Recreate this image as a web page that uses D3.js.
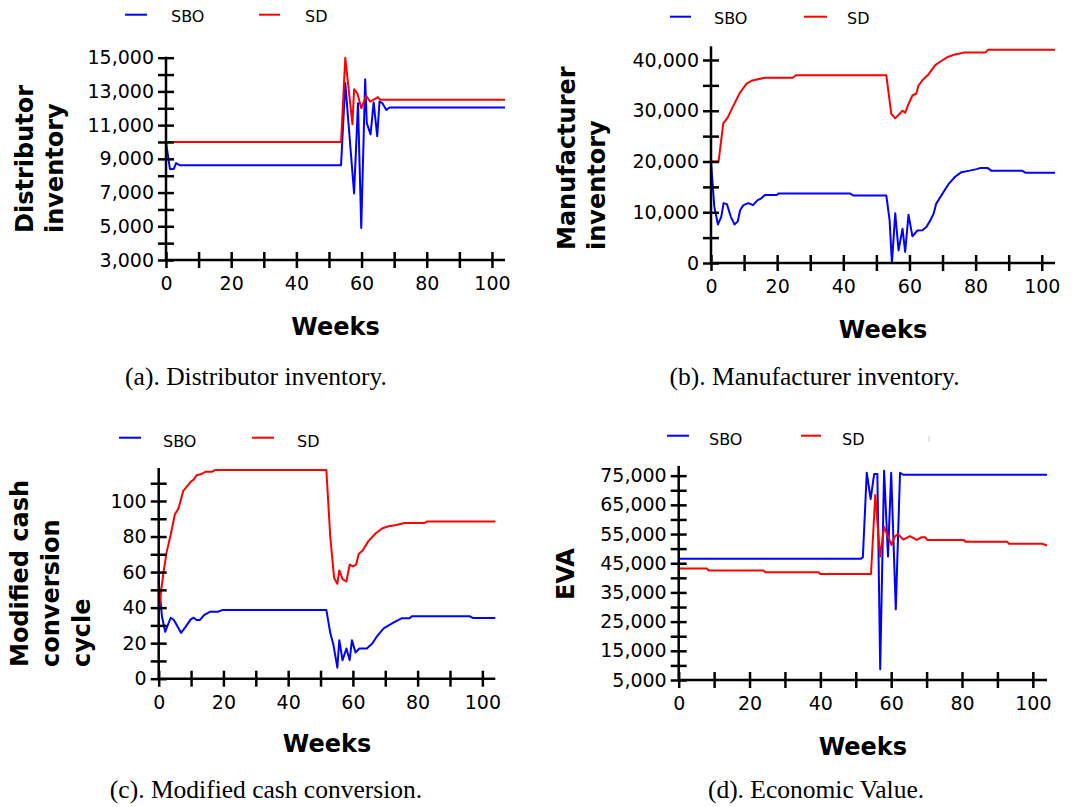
<!DOCTYPE html>
<html><head><meta charset="utf-8">
<script src="https://cdn.jsdelivr.net/npm/d3@7"></script>
<style>body{margin:0;background:#fff} svg{display:block}</style>
</head><body>
<svg id="c" width="1083" height="807"></svg>
<script>
// ---------- data ----------
const weeksDomain = [0, 104];
const xTickValues = [0,10,20,30,40,50,60,70,80,90,100];
const xLabelValues = [0,20,40,60,80,100];
const seriesNames = ["SBO", "SD"];
const seriesColors = ["#0000ff", "#ff0000"];

// (a) Distributor inventory  [week, value]
const distSBO = [[0,10000],[1.2,8400],[2.4,8400],[3.1,8750],[4.3,8620],[53.7,8620],[55.0,13500],[57.7,6950],[58.9,12300],[59.9,4900],[61.1,13720],[61.6,11120],[62.75,10450],[63.7,12350],[64.8,10350],[65.5,12400],[66.4,12300],[67.6,11900],[68.6,12050],[104,12050]];
const distSD = [[0,10000],[53.7,10000],[55.0,15000],[57.2,11050],[57.7,13130],[58.7,12890],[59.9,12000],[61.4,12740],[62.6,12400],[64.0,12540],[65.0,12660],[65.7,12500],[104,12500]];
const distYTicks = [3000,4000,5000,6000,7000,8000,9000,10000,11000,12000,13000,14000,15000];
const distYLabels = [3000,5000,7000,9000,11000,13000,15000];

// (b) Manufacturer inventory
const mfgSBO = [[0,20000],[1,11050],[2.1,7600],[3.1,9100],[3.8,11800],[4.8,11600],[6,9100],[7.1,7600],[8.1,8200],[8.8,10400],[9.8,11400],[11.3,11800],[12.7,11400],[14.1,12400],[15.1,12700],[16.3,13400],[19.9,13400],[20.4,13700],[42,13700],[43,13300],[53,13300],[54,8400],[54.7,0],[55.7,9800],[56.7,2500],[57.9,6750],[58.7,2200],[59.7,9500],[60.9,5250],[62.4,6400],[63.9,6450],[65.1,7100],[66.3,8400],[67.3,9700],[68.1,11700],[70.3,14000],[72,15700],[73.8,17000],[75.7,17900],[78.2,18200],[80.3,18500],[81.3,18700],[83.7,18700],[84.7,18200],[94,18200],[95,17800],[104,17800]];
const mfgSD = [[0,20000],[2.3,20000],[3.7,27500],[5,28600],[6.7,30900],[8.7,33500],[10.7,35300],[12.2,35900],[14.2,36200],[16.2,36500],[24.7,36500],[25.7,37000],[53,37000],[54.5,29400],[55.7,28500],[57.9,30000],[58.7,29600],[59.7,31300],[60.9,33000],[62.1,33400],[62.7,34900],[63.9,36000],[65.8,37200],[67.8,39000],[69.6,39800],[71.6,40600],[73.8,41100],[76.7,41500],[83,41500],[83.7,42000],[104,42000]];
const mfgYTicks = [0,5000,10000,15000,20000,25000,30000,35000,40000];
const mfgYLabels = [0,10000,20000,30000,40000];

// (c) Modified cash conversion cycle
const cccSBO = [[0,55],[1,35],[2,26.4],[3.7,34.3],[4.7,33],[6.9,25.8],[8.3,29.2],[9.9,33.4],[10.8,34.3],[11.7,33],[12.7,33],[14,35.8],[15.9,37.7],[18.3,37.7],[19.8,38.7],[51.8,38.7],[53,25.8],[54,18.9],[55.2,6.2],[55.8,21.7],[56.8,10.4],[58,17],[59,10.4],[59.7,21.7],[60.8,14.7],[62,17],[64.3,17],[66,19.8],[67.5,24],[69.5,28.3],[72.5,31.5],[75,34],[77.5,34],[78.3,35.2],[96,35.2],[97,34.2],[104,34.2]];
const cccSD = [[0,38],[1.3,57.5],[2.4,70.8],[3.7,81],[5,92.5],[6.1,95.7],[7.6,105.7],[9.9,110.8],[10.8,112],[11.7,114.5],[13,115],[14.4,116.4],[16.4,116.4],[17.4,117.4],[51.8,117.4],[53,80],[54.2,56.6],[55.2,53.4],[55.8,60.9],[56.8,56],[58,54.7],[59,64.2],[60,63.2],[61,64.2],[61.8,70.2],[63,72.1],[64.8,77.4],[67,81.7],[69,84.5],[71,85.8],[73,86.4],[76,87.6],[82,87.6],[83,88.5],[104,88.5]];
const cccYTicks = [0,10,20,30,40,50,60,70,80,90,100,110];
const cccYLabels = [0,20,40,60,80,100];

// (d) Economic value added
const evaSBO = [[0,46500],[51.4,46500],[52,47000],[53.1,76000],[54.2,67000],[55.2,75600],[56.1,75600],[56.9,8700],[58,76700],[59.1,47300],[60,76000],[61.3,29200],[62.5,76000],[63.4,75300],[104,75300]];
const evaSD = [[0,43200],[7.9,43200],[8.5,42500],[23.9,42500],[24.5,41900],[39.5,41900],[40,41300],[54.3,41300],[55.5,68400],[56.9,47300],[58,57500],[58.9,54700],[60.1,51300],[61,54100],[61.9,55000],[63.4,53100],[65.3,54300],[67.2,53000],[68.6,53900],[69.6,53900],[70.2,53000],[80.4,53000],[81,52400],[92.7,52400],[93.3,51700],[102.5,51700],[104,51100]];
const evaYTicks = [5000,10000,15000,20000,25000,30000,35000,40000,45000,50000,55000,60000,65000,70000,75000];
const evaYLabels = [5000,15000,25000,35000,45000,55000,65000,75000];

const yTitles = [["Distributor","inventory"],["Manufacturer","inventory"],["Modified cash","conversion","cycle"],["EVA"]];
const captions = ["(a). Distributor inventory.","(b). Manufacturer inventory.","(c). Modified cash conversion.","(d). Economic Value."];

// ---------- layout ----------
const SANS = "'DejaVu Sans', Verdana, sans-serif";
const SERIF = "'Liberation Serif', 'Times New Roman', serif";
const panels = [
  {series:[distSBO,distSD], yDomain:[3000,15000], yTicks:distYTicks, yLabels:distYLabels,
   x0:166, x1:505, yB:260, yT:57.7, titleX:[33,63], titleY:233, weeksY:335, capX:256, capY:385,
   leg:{y:14.7, tb:22.3, items:[[125,147,171],[259,280,305]]}},
  {series:[mfgSBO,mfgSD], yDomain:[0,42500], yTicks:mfgYTicks, yLabels:mfgYLabels,
   x0:711, x1:1055, yB:263, yT:47.3, titleX:[575,605], titleY:250, weeksY:338, capX:814.5, capY:385,
   leg:{y:16.7, tb:24, items:[[670,691,714],[804,827,847]]}},
  {series:[cccSBO,cccSD], yDomain:[0,118], yTicks:cccYTicks, yLabels:cccYLabels,
   x0:158.7, x1:495.3, yB:678.7, yT:469, titleX:[28,59,90], titleY:667, weeksY:751.7, capX:266, capY:798,
   leg:{y:437.7, tb:446.7, items:[[119,141,163],[252,274,297]]}},
  {series:[evaSBO,evaSD], yDomain:[5000,78000], yTicks:evaYTicks, yLabels:evaYLabels,
   x0:678.7, x1:1047, yB:680, yT:466.9, titleX:[574], titleY:600, weeksY:755, capX:816, capY:798,
   leg:{y:435.7, tb:445, items:[[667,689,709],[801,821,842]]}}
];

const svg = d3.select("#c");
const fmt = d3.format(",");

panels.forEach((p, i) => {
  const x = d3.scaleLinear().domain(weeksDomain).range([p.x0, p.x1]);
  const y = d3.scaleLinear().domain(p.yDomain).range([p.yB, p.yT]);
  const g = svg.append("g");

  // lines
  const line = d3.line().x(d => x(d[0])).y(d => y(d[1]));
  p.series.forEach((s, k) => {
    g.append("path").datum(s).attr("d", line).attr("fill", "none")
      .attr("stroke", seriesColors[k]).attr("stroke-width", 2).attr("stroke-linejoin", "round");
  });

  // y axis
  const yAx = g.append("g").attr("transform", `translate(${p.x0},0)`)
    .call(d3.axisLeft(y).tickValues(p.yTicks).tickSize(8).tickPadding(4)
      .tickFormat(v => p.yLabels.includes(v) ? fmt(v) : ""));
  yAx.select(".domain").attr("d", `M0,${p.yB}V${p.yT - 1}`);
  // x axis
  const xAx = g.append("g").attr("transform", `translate(0,${p.yB})`)
    .call(d3.axisBottom(x).tickValues(xTickValues).tickSize(8).tickPadding(9)
      .tickFormat(v => xLabelValues.includes(v) ? v : ""));
  xAx.select(".domain").attr("d", `M${p.x0},0H${p.x1}`);
  [yAx, xAx].forEach(a => {
    a.select(".domain").attr("stroke", "#000").attr("stroke-width", 2.5);
    a.selectAll(".tick line").attr("stroke", "#000").attr("stroke-width", 2.5);
    a.selectAll(".tick text").attr("fill", "#000").style("font-family", SANS).style("font-size", "19px");
  });
  yAx.selectAll(".tick line").attr("x1", 8).attr("x2", -8);
  xAx.selectAll(".tick line").attr("y1", -8).attr("y2", 8);

  // axis titles
  yTitles[i].forEach((t, j) => {
    g.append("text").attr("transform", `translate(${p.titleX[j]},${p.titleY}) rotate(-90)`)
      .attr("text-anchor", "start").style("font-family", SANS).style("font-weight", "bold")
      .style("font-size", "24px").text(t);
  });
  g.append("text").attr("x", (p.x0 + p.x1) / 2).attr("y", p.weeksY).attr("text-anchor", "middle")
    .style("font-family", SANS).style("font-weight", "bold").style("font-size", "24px").text("Weeks");

  // caption
  g.append("text").attr("x", p.capX).attr("y", p.capY).attr("text-anchor", "middle")
    .style("font-family", SERIF).style("font-size", "25.5px").text(captions[i]);

  // legend
  p.leg.items.forEach((it, k) => {
    g.append("line").attr("x1", it[0]).attr("x2", it[1]).attr("y1", p.leg.y).attr("y2", p.leg.y)
      .attr("stroke", seriesColors[k]).attr("stroke-width", 2);
    g.append("text").attr("x", it[2]).attr("y", p.leg.tb).style("font-family", SANS)
      .style("font-size", "16px").attr("fill", "#000").text(seriesNames[k]);
  });
});
// faint artifact mark in panel (d) legend area
svg.append("line").attr("x1", 929).attr("x2", 929).attr("y1", 436).attr("y2", 442)
  .attr("stroke", "#cccccc").attr("stroke-width", 1);
</script>
</body></html>
